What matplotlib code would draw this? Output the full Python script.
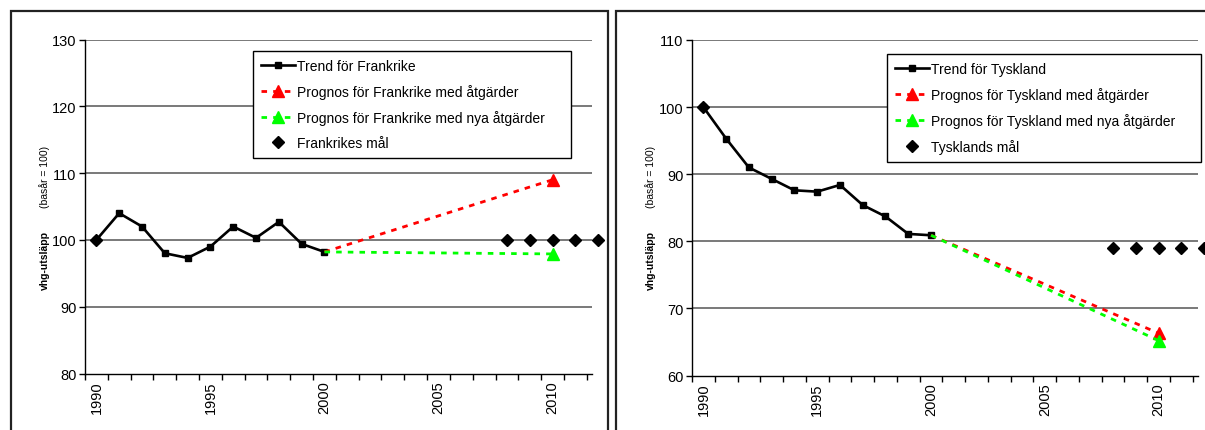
import matplotlib.pyplot as plt
import matplotlib.ticker as mticker
from matplotlib.patches import Rectangle

plt.rcParams['font.family'] = ['Liberation Sans', 'DejaVu Sans']

# --- data ---
years_trend = [1990, 1991, 1992, 1993, 1994, 1995, 1996, 1997, 1998, 1999, 2000]
fr_trend = [100, 104.0, 102.0, 98.0, 97.3, 99.0, 102.0, 100.3, 102.7, 99.4, 98.2]
de_trend = [100, 95.3, 91.0, 89.3, 87.6, 87.4, 88.4, 85.4, 83.7, 81.1, 80.9]

years_prog = [2000, 2010]
fr_prog_med = [98.2, 109.0]
fr_prog_nya = [98.2, 97.9]
de_prog_med = [80.9, 66.3]
de_prog_nya = [80.9, 65.2]

years_goal = [1990, 2008, 2009, 2010, 2011, 2012]
fr_goal = [100, 100, 100, 100, 100, 100]
de_goal = [100, 79, 79, 79, 79, 79]

year_labels = [1990, 1995, 2000, 2005, 2010]

W, H = 1205, 431
fig = plt.figure(figsize=(W / 100, H / 100), dpi=100)


def px(x0, y0, x1, y1):
    # pixel box (top-left origin) -> figure fractions
    return [x0 / W, 1 - y1 / H, (x1 - x0) / W, (y1 - y0) / H]


def panel(box, trend, med, nya, goal, ylim, names, leg_box, ylab_x):
    ax = fig.add_axes(box)
    ax.set_xlim(1989.52, 2011.73)
    ax.set_ylim(*ylim)
    for y in range(ylim[0] + 10, ylim[1] + 1, 10):
        ax.axhline(y, color='#555555', lw=1.1, zorder=1)

    ax.plot(years_trend, trend, color='black', lw=1.9, marker='s', ms=5,
            label=names[0], zorder=3)
    ax.plot(years_prog, med, color='#ff0000', lw=2.0, dashes=(2, 2.2),
            marker='^', ms=8, markevery=[1], label=names[1], zorder=3)
    ax.plot(years_prog, nya, color='#00ff00', lw=2.0, dashes=(2, 2.2),
            marker='^', ms=8, markevery=[1], label=names[2], zorder=3)
    ax.plot(years_goal, goal, ls='none', color='black', marker='D', ms=6.5,
            label=names[3], zorder=4, clip_on=False)

    for s in ['top', 'right']:
        ax.spines[s].set_visible(False)
    ax.spines['left'].set_linewidth(1.0)
    ax.spines['bottom'].set_linewidth(1.0)

    ax.yaxis.set_major_locator(mticker.MultipleLocator(10))
    ax.tick_params(axis='y', length=4, width=1, labelsize=10.5, pad=2)
    ax.set_xticks(year_labels)
    ax.set_xticklabels([str(y) for y in year_labels], rotation=90)
    ax.tick_params(axis='x', which='major', length=0, labelsize=10.5, pad=5)
    ax.set_xticks([y + 0.5 for y in range(1989, 2012)], minor=True)
    ax.tick_params(axis='x', which='minor', length=4, width=1, direction='out')

    ax.legend(loc='upper left', bbox_to_anchor=px(*leg_box), mode='expand',
              bbox_transform=fig.transFigure, frameon=True, fancybox=False,
              edgecolor='black', framealpha=1, fontsize=10, handlelength=2.4,
              handletextpad=0.2, labelspacing=0.78, borderpad=0.6,
              borderaxespad=0)
    ax.get_legend().get_frame().set_linewidth(1.0)

    fig.text(ylab_x / W, 1 - 261 / H, 'vhg-utsläpp', rotation=90, fontsize=7.5,
             fontweight='bold', ha='center', va='center')
    fig.text(ylab_x / W, 1 - 177 / H, '(basår = 100)', rotation=90, fontsize=7.5,
             ha='center', va='center')
    return ax


panel(px(85, 40.5, 592, 374.5), fr_trend, fr_prog_med, fr_prog_nya, fr_goal,
      (80, 130),
      ['Trend för Frankrike', 'Prognos för Frankrike med åtgärder',
       'Prognos för Frankrike med nya åtgärder', 'Frankrikes mål'],
      (253, 52, 571, 157), 45)

panel(px(692, 41, 1198, 376.5), de_trend, de_prog_med, de_prog_nya, de_goal,
      (60, 110),
      ['Trend för Tyskland', 'Prognos för Tyskland med åtgärder',
       'Prognos för Tyskland med nya åtgärder', 'Tysklands mål'],
      (887, 55, 1201, 161), 651)

# outer chart frames
for x0, x1 in [(11, 608), (616, 1260)]:
    fig.add_artist(Rectangle((x0 / W, -0.2), (x1 - x0) / W, 1.2 - 12 / H,
                             transform=fig.transFigure, fill=False,
                             edgecolor='#222222', lw=1.6))

fig.savefig('out.png', dpi=100)
